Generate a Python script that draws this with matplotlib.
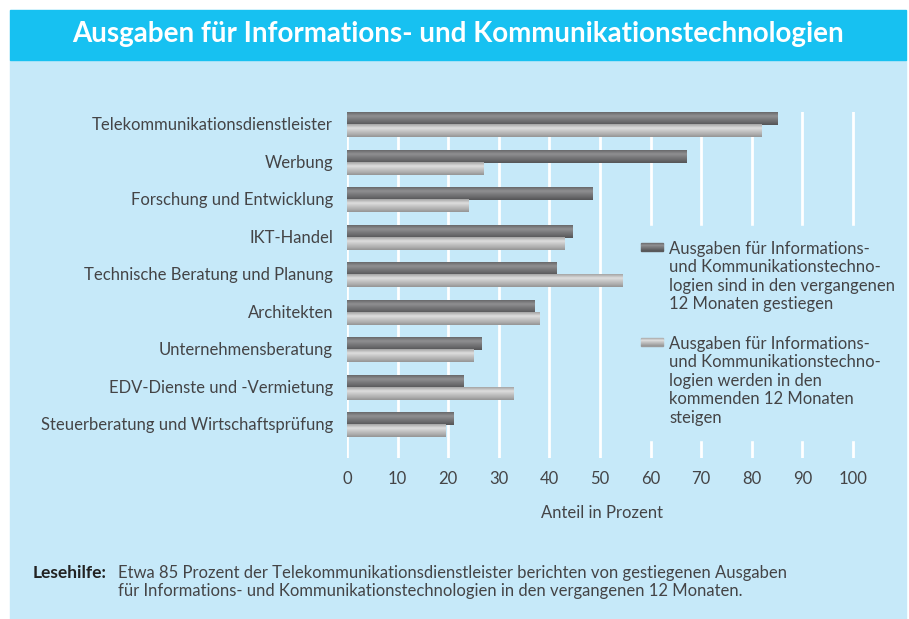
import numpy as np
import matplotlib
matplotlib.use('Agg')
import matplotlib.pyplot as plt
from matplotlib.patches import Rectangle
from matplotlib.colors import LinearSegmentedColormap

# ---------------- data ----------------
categories = [
    "Telekommunikationsdienstleister",
    "Werbung",
    "Forschung und Entwicklung",
    "IKT-Handel",
    "Technische Beratung und Planung",
    "Architekten",
    "Unternehmensberatung",
    "EDV-Dienste und -Vermietung",
    "Steuerberatung und Wirtschaftsprüfung",
]
past_increase = [85, 67, 48.5, 44.5, 41.5, 37, 26.5, 23, 21]
future_increase = [82, 27, 24, 43, 54.5, 38, 25, 33, 19.5]
xtick_values = [0, 10, 20, 30, 40, 50, 60, 70, 80, 90, 100]
legend_labels = [
    "Ausgaben für Informations-\nund Kommunikationstechno-\nlogien sind in den vergangenen\n12 Monaten gestiegen",
    "Ausgaben für Informations-\nund Kommunikationstechno-\nlogien werden in den\nkommenden 12 Monaten\nsteigen",
]
title_text = "Ausgaben für Informations- und Kommunikationstechnologien"
xlabel_text = "Anteil in Prozent"
note_bold = "Lesehilfe:"
note_text = ("Etwa 85 Prozent der Telekommunikationsdienstleister berichten von gestiegenen Ausgaben\n"
             "für Informations- und Kommunikationstechnologien in den vergangenen 12 Monaten.")

# ---------------- style ----------------
plt.rcParams['font.family'] = ['Lato', 'DejaVu Sans']
TXT = '#444446'
PANEL = '#C6E9F9'
HEAD = '#17C1F1'
FS = 12
LW = 'normal'

W, H = 909, 619
fig = plt.figure(figsize=(W / 100, H / 100), dpi=100)
fig.patch.set_facecolor('white')

def fx(px):
    return px / W

def fy(py):
    return 1 - py / H

fig.patches.append(Rectangle((fx(10), 0), (906 - 10) / W, (619 - 60) / H,
                             transform=fig.transFigure, color=PANEL, zorder=-10))
fig.patches.append(Rectangle((fx(10), fy(60)), (906 - 10) / W, 50 / H,
                             transform=fig.transFigure, color=HEAD, zorder=-10))
fig.text(fx(458), fy(34), title_text, color='white', fontsize=20, fontweight='bold',
         ha='center', va='center')

cmap_dark = LinearSegmentedColormap.from_list(
    'dark', [(0, '#68686a'), (0.3, '#909092'), (0.55, '#7a7a7c'), (0.8, '#666668'), (1, '#545456')])
cmap_light = LinearSegmentedColormap.from_list(
    'light', [(0, '#a4a4a4'), (0.3, '#dedede'), (0.55, '#c4c4c4'), (0.8, '#acacac'), (1, '#949494')])
grad = np.linspace(0, 1, 64).reshape(-1, 1)

ax = fig.add_axes([fx(347), fy(458), 101 * 5.06 / W, (458 - 112) / H])
ax.set_facecolor('none')
for s in ax.spines.values():
    s.set_visible(False)

y = np.arange(len(categories))
h = 0.33
bars_p = ax.barh(y - h / 2, past_increase, height=h, color='#7a7a7c', zorder=2)
bars_f = ax.barh(y + h / 2, future_increase, height=h, color='#c0c0c0', zorder=2)

def add_gradient(bar, cmap):
    x0, y0, w, hh = bar.get_x(), bar.get_y(), bar.get_width(), bar.get_height()
    ax.imshow(grad, extent=(x0, x0 + w, y0 + hh, y0), aspect='auto', cmap=cmap,
              vmin=0, vmax=1, zorder=3, interpolation='bilinear')

for b in bars_p:
    add_gradient(b, cmap_dark)
for b in bars_f:
    add_gradient(b, cmap_light)

ax.set_autoscale_on(False)
ax.set_xlim(0, 101)
ax.set_ylim(8.88, -0.347)
ax.set_xticks(xtick_values)
ax.set_yticks(y)
ax.set_yticklabels(categories, fontweight=LW)
for t in ax.get_yticklabels():
    t.set_verticalalignment('center')
ax.tick_params(axis='both', length=0, labelsize=FS, labelcolor=TXT)
ax.tick_params(axis='y', pad=10)
ax.tick_params(axis='x', pad=9)
ax.set_axisbelow(True)
ax.grid(axis='x', color='white', lw=2.0)
ax.grid(axis='y', visible=False)

# legend area covering gridlines
ax.add_patch(Rectangle((fx(628), fy(440)), (895 - 628) / W, (440 - 226) / H,
                       transform=fig.transFigure, color=PANEL, clip_on=False, zorder=1))

fig.text(fx(602), fy(513), xlabel_text, fontsize=FS, fontweight=LW, color=TXT,
         ha='center', va='center')

# legend (manual, handle aligned to first line)
def swatch(x, ytop, cmap):
    n = 8
    for i in range(n):
        c = cmap((i + 0.5) / n)
        fig.patches.append(Rectangle((fx(x), fy(ytop + i + 1)), 22 / W, 1 / H,
                                     transform=fig.transFigure, color=c, zorder=5))

legend_tops = [242, 337]
for lab, top, cm in zip(legend_labels, legend_tops, [cmap_dark, cmap_light]):
    swatch(641, top + 1, cm)
    fig.text(fx(669), fy(top - 1), lab, fontsize=FS, fontweight=LW, color=TXT,
             ha='left', va='top', linespacing=1.19)

# footnote
fig.text(fx(33), fy(573), note_bold, fontsize=12.5, fontweight='bold', color='#222222',
         ha='left', va='center')
fig.text(fx(118), fy(582), note_text, fontsize=FS, fontweight=LW, color=TXT,
         ha='left', va='center', linespacing=1.15)

fig.savefig('out.png', dpi=100, facecolor='white')
